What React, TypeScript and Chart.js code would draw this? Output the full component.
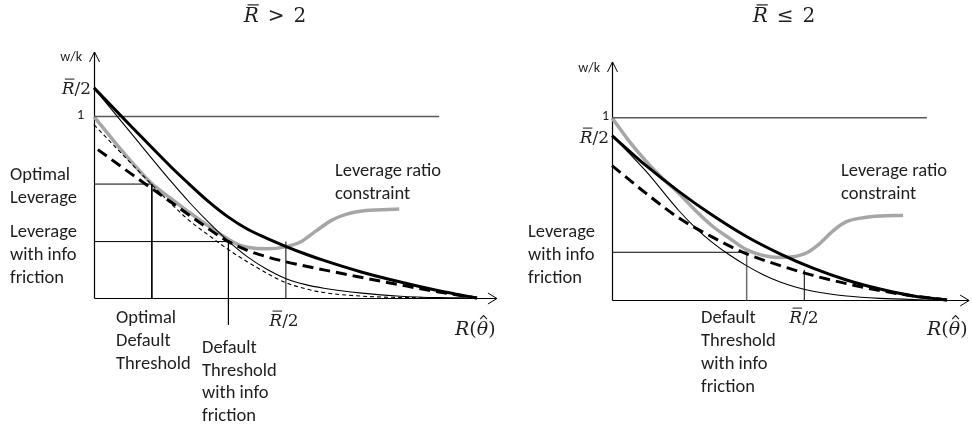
import React, { useEffect, useRef } from "react";
import { Chart, registerables } from "chart.js";
Chart.register(...registerables);

// ---------- Panel A : R̄ > 2 ----------
const A_THICK_X = [0, 1, 2, 2.5, 3, 3.5, 4, 4.5, 5, 5.5, 6, 7, 8, 9, 10];
const A_THICK_Y = [1.158, 0.94, 0.725, 0.625, 0.53, 0.447, 0.38, 0.33, 0.285, 0.244, 0.207, 0.142, 0.088, 0.04, 0];
const A_THIN_X = [0, 1, 2, 2.5, 3, 3.5, 4, 4.5, 5, 5.5, 6, 7, 8, 9, 10];
const A_THIN_Y = [1.158, 0.9, 0.645, 0.525, 0.415, 0.315, 0.228, 0.16, 0.108, 0.075, 0.054, 0.027, 0.01, 0.002, 0];
const A_GRAY_X = [0, 0.5, 1, 1.5, 2, 2.5, 3, 3.5, 3.75, 4, 4.5, 5, 5.4, 5.8, 6.2, 6.6, 7.1, 7.97];
const A_GRAY_Y = [1.0, 0.87, 0.745, 0.632, 0.55, 0.47, 0.395, 0.325, 0.295, 0.28, 0.271, 0.282, 0.31, 0.37, 0.428, 0.462, 0.482, 0.49];
const A_DASH_X = [0.1, 1, 2, 2.5, 3, 3.5, 4, 4.5, 5, 6, 7, 8, 9, 10];
const A_DASH_Y = [0.818, 0.68, 0.53, 0.455, 0.38, 0.312, 0.263, 0.228, 0.2, 0.155, 0.113, 0.072, 0.033, 0];
const A_FDASH_X = [0, 0.5, 1, 1.5, 2, 2.5, 3, 3.5, 4, 4.5, 5, 5.5, 6, 7, 8, 9];
const A_FDASH_Y = [0.955, 0.845, 0.735, 0.627, 0.522, 0.425, 0.345, 0.268, 0.2, 0.138, 0.085, 0.052, 0.03, 0.01, 0.003, 0];
const A_ONE_END = 9.01;
const A_LEVELS = [0.628, 0.311]; // optimal leverage, leverage with info friction
const A_THRESHOLDS = [1.51, 3.51]; // optimal default threshold, threshold with info friction
const A_THRESHOLD_TAIL = -0.147;
const A_HALF_RBAR = 5.01;
const A_HALF_RBAR_TOP = 0.311;

// ---------- Panel B : R̄ ≤ 2 ----------
const B_THICK_X = [0, 1, 2, 3, 4, 5, 6, 7, 8, 9, 10];
const B_THICK_Y = [0.903, 0.74, 0.595, 0.465, 0.35, 0.255, 0.175, 0.11, 0.06, 0.022, 0];
const B_THIN_X = [0, 1, 2, 2.5, 3, 3.5, 4, 4.5, 5, 5.5, 6, 7, 8, 9.5];
const B_THIN_Y = [0.903, 0.71, 0.49, 0.395, 0.315, 0.248, 0.19, 0.14, 0.1, 0.07, 0.048, 0.022, 0.009, 0];
const B_GRAY_X = [0, 0.5, 1, 1.5, 2, 2.5, 3, 3.5, 4, 4.5, 5, 5.4, 5.8, 6.2, 6.6, 7, 7.5, 8, 8.69];
const B_GRAY_Y = [1.0, 0.875, 0.765, 0.67, 0.585, 0.49, 0.405, 0.34, 0.278, 0.245, 0.233, 0.237, 0.258, 0.31, 0.38, 0.43, 0.452, 0.461, 0.464];
const B_DASH_X = [0, 1, 2, 3, 4, 5, 6, 7, 8, 9, 10];
const B_DASH_Y = [0.738, 0.588, 0.45, 0.345, 0.255, 0.19, 0.135, 0.09, 0.052, 0.022, 0];
const B_ONE_END = 9.4;
const B_LEVEL = 0.262; // leverage with info friction
const B_THRESHOLD = 4.02; // default threshold with info friction
const B_HALF_RBAR = 5.74;
const B_HALF_RBAR_TOP = 0.165;

// ---------- tick / axis labels ----------
const Y_TICK_ONE = "1";
const Y_AXIS_LABEL = "w/k";
const LABEL_OPT_LEV = ["Optimal", "Leverage"];
const LABEL_FRIC_LEV = ["Leverage", "with info", "friction"];
const LABEL_CONSTRAINT = ["Leverage ratio", "constraint"];
const LABEL_OPT_THR = ["Optimal", "Default", "Threshold"];
const LABEL_FRIC_THR = ["Default", "Threshold", "with info", "friction"];

const STYLES: Record<string, any> = {
  thick: { borderColor: "#000", borderWidth: 3, borderDash: [] },
  thin: { borderColor: "#000", borderWidth: 1.1, borderDash: [] },
  thickDash: { borderColor: "#000", borderWidth: 3, borderDash: [11, 6] },
  thinDash: { borderColor: "#000", borderWidth: 1.1, borderDash: [4, 3] },
  gray: { borderColor: "#a6a6a6", borderWidth: 3.5, borderDash: [] },
  level: { borderColor: "#595959", borderWidth: 1.5, borderDash: [] },
  guide: { borderColor: "#000", borderWidth: 1, borderDash: [] },
  guideGray: { borderColor: "#6b6b6b", borderWidth: 1.5, borderDash: [] },
};

const pts = (xs: number[], ys: number[]) => xs.map((x, i) => ({ x, y: ys[i] }));

function ds(xs: number[], ys: number[], style: string, order: number, curve = true) {
  return {
    data: pts(xs, ys),
    ...STYLES[style],
    fill: false,
    pointRadius: 0,
    clip: false,
    order,
    borderCapStyle: "butt",
    borderJoinStyle: "round",
    tension: curve ? 0.4 : 0,
    cubicInterpolationMode: curve ? "monotone" : "default",
  };
}

type MathPart = { t: string; it?: boolean; bar?: boolean; hat?: boolean; gap?: number };
type MathItem = { parts: MathPart[]; x: number; y: number; size: number; align: "left" | "center" | "right" };
type TextItem = { lines: string[]; x: number; y: number; lh: number; size: number; align?: CanvasTextAlign };

const MATH_FAMILY = '"DejaVu Serif", serif';
const TEXT_FAMILY = 'Carlito, Lato, "Open Sans", sans-serif';
const INK = "#1e1e1e";
const LABEL_SIZE = 18.5;

function drawMath(ctx: CanvasRenderingContext2D, m: MathItem) {
  const fontOf = (p: MathPart) => `${p.it ? "italic " : ""}${m.size}px ${MATH_FAMILY}`;
  let total = 0;
  const widths = m.parts.map((p) => {
    ctx.font = fontOf(p);
    const w = ctx.measureText(p.t).width;
    total += w + (p.gap || 0);
    return w;
  });
  let cx = m.align === "center" ? m.x - total / 2 : m.align === "right" ? m.x - total : m.x;
  ctx.textAlign = "left";
  ctx.textBaseline = "alphabetic";
  m.parts.forEach((p, i) => {
    cx += p.gap || 0;
    ctx.font = fontOf(p);
    ctx.fillText(p.t, cx, m.y);
    const w = widths[i];
    ctx.lineWidth = Math.max(1, m.size * 0.06);
    if (p.bar) {
      const top = m.y - m.size * 0.73 - 2.5;
      ctx.beginPath();
      ctx.moveTo(cx + w * 0.25, top);
      ctx.lineTo(cx + w * 1.0, top);
      ctx.stroke();
    }
    if (p.hat) {
      const top = m.y - m.size * 0.76 - 5;
      ctx.beginPath();
      ctx.moveTo(cx + w * 0.3, top + 3.5);
      ctx.lineTo(cx + w * 0.6, top);
      ctx.lineTo(cx + w * 0.9, top + 3.5);
      ctx.stroke();
    }
    cx += w;
  });
}

type Spec = {
  width: number;
  left: number;
  padding: { left: number; right: number; top: number; bottom: number };
  xTip: number;
  yTip: number;
  datasets: any[];
  texts: TextItem[];
  maths: MathItem[];
};

function makeChart(canvas: HTMLCanvasElement, spec: Spec) {
  const deco = {
    id: "deco",
    beforeDatasetsDraw(chart: any) {
      const ctx = chart.ctx as CanvasRenderingContext2D;
      const xs = chart.scales.x;
      const ys = chart.scales.y;
      const ox = Math.round(xs.getPixelForValue(0)) + 0.5;
      const oy = Math.round(ys.getPixelForValue(0)) + 0.5;
      const tx = xs.getPixelForValue(spec.xTip);
      const ty = ys.getPixelForValue(spec.yTip);
      ctx.save();
      ctx.strokeStyle = "#000";
      ctx.lineWidth = 1.2;
      ctx.beginPath();
      ctx.moveTo(ox, oy);
      ctx.lineTo(ox, ty);
      ctx.moveTo(ox, oy);
      ctx.lineTo(tx, oy);
      ctx.stroke();
      ctx.lineWidth = 1;
      ctx.beginPath();
      ctx.moveTo(ox - 5, ty + 10);
      ctx.lineTo(ox, ty);
      ctx.lineTo(ox + 5, ty + 10);
      ctx.moveTo(tx - 9, oy - 5.5);
      ctx.lineTo(tx, oy);
      ctx.lineTo(tx - 9, oy + 5.5);
      ctx.stroke();
      ctx.restore();
    },
    afterDraw(chart: any) {
      const ctx = chart.ctx as CanvasRenderingContext2D;
      ctx.save();
      ctx.fillStyle = INK;
      ctx.strokeStyle = INK;
      ctx.textBaseline = "alphabetic";
      spec.texts.forEach((t) => {
        ctx.font = `${t.size}px ${TEXT_FAMILY}`;
        ctx.textAlign = t.align || "left";
        t.lines.forEach((line, i) => ctx.fillText(line, t.x, t.y + i * t.lh));
      });
      spec.maths.forEach((m) => drawMath(ctx, m));
      ctx.restore();
    },
  };
  return new Chart(canvas, {
    type: "line",
    data: { datasets: spec.datasets },
    options: {
      responsive: false,
      animation: false,
      devicePixelRatio: window.devicePixelRatio || 1,
      layout: { padding: spec.padding },
      plugins: { legend: { display: false }, tooltip: { enabled: false }, title: { display: false } },
      scales: {
        x: { type: "linear", min: 0, max: 10, display: false },
        y: { type: "linear", min: 0, max: 1.4, display: false },
      },
      elements: { point: { radius: 0 } },
    } as any,
    plugins: [deco],
  } as any);
}

const RBAR: MathPart = { t: "R", it: true, bar: true };
const R_THETA: MathPart[] = [
  { t: "R", it: true },
  { t: "(" },
  { t: "θ", it: true, hat: true },
  { t: ")" },
];

const specA: Spec = {
  width: 505,
  left: 0,
  padding: { left: 94, right: 28, top: 44, bottom: 132 },
  xTip: 10.52,
  yTip: 1.356,
  datasets: [
    ds(A_THICK_X, A_THICK_Y, "thick", 1),
    ds(A_DASH_X, A_DASH_Y, "thickDash", 2),
    ds(A_THIN_X, A_THIN_Y, "thin", 3),
    ds(A_FDASH_X, A_FDASH_Y, "thinDash", 4),
    ds([0, A_ONE_END], [1, 1], "level", 5, false),
    ds([0, A_THRESHOLDS[0], A_THRESHOLDS[0]], [A_LEVELS[0], A_LEVELS[0], 0], "guide", 5, false),
    ds([0, A_THRESHOLDS[1], A_THRESHOLDS[1]], [A_LEVELS[1], A_LEVELS[1], A_THRESHOLD_TAIL], "guide", 5, false),
    ds([A_HALF_RBAR, A_HALF_RBAR], [0, A_HALF_RBAR_TOP], "guide", 5, false),
    ds(A_GRAY_X, A_GRAY_Y, "gray", 6),
  ],
  texts: [
    { lines: [Y_AXIS_LABEL], x: 82, y: 61, lh: 0, size: 14, align: "right" },
    { lines: [Y_TICK_ONE], x: 84, y: 119, lh: 0, size: 14, align: "right" },
    { lines: LABEL_OPT_LEV, x: 10, y: 180, lh: 22.5, size: LABEL_SIZE },
    { lines: LABEL_FRIC_LEV, x: 10, y: 237, lh: 23, size: LABEL_SIZE },
    { lines: LABEL_CONSTRAINT, x: 335, y: 176, lh: 22.5, size: LABEL_SIZE },
    { lines: LABEL_OPT_THR, x: 116, y: 323, lh: 23, size: LABEL_SIZE },
    { lines: LABEL_FRIC_THR, x: 202, y: 353, lh: 22.7, size: LABEL_SIZE },
  ],
  maths: [
    { parts: [RBAR, { t: ">", gap: 9 }, { t: "2", gap: 9 }], x: 275, y: 22, size: 20, align: "center" },
    { parts: [RBAR, { t: "/2" }], x: 91, y: 94, size: 17, align: "right" },
    { parts: [RBAR, { t: "/2" }], x: 284, y: 326, size: 17, align: "center" },
    { parts: R_THETA, x: 455, y: 335, size: 19, align: "left" },
  ],
};

const specB: Spec = {
  width: 482,
  left: 490,
  padding: { left: 122, right: 25, top: 45, bottom: 130 },
  xTip: 10.66,
  yTip: 1.307,
  datasets: [
    ds(B_THICK_X, B_THICK_Y, "thick", 1),
    ds(B_DASH_X, B_DASH_Y, "thickDash", 2),
    ds(B_THIN_X, B_THIN_Y, "thin", 3),
    ds([0, B_ONE_END], [1, 1], "level", 5, false),
    ds([0, B_THRESHOLD], [B_LEVEL, B_LEVEL], "guide", 5, false),
    ds([B_THRESHOLD, B_THRESHOLD], [B_LEVEL, 0], "guideGray", 5, false),
    ds([B_HALF_RBAR, B_HALF_RBAR], [0, B_HALF_RBAR_TOP], "guide", 5, false),
    ds(B_GRAY_X, B_GRAY_Y, "gray", 6),
  ],
  texts: [
    { lines: [Y_AXIS_LABEL], x: 110, y: 72, lh: 0, size: 14, align: "right" },
    { lines: [Y_TICK_ONE], x: 119, y: 120, lh: 0, size: 14, align: "right" },
    { lines: LABEL_FRIC_LEV, x: 38, y: 237, lh: 23, size: LABEL_SIZE },
    { lines: LABEL_CONSTRAINT, x: 351, y: 176, lh: 22.5, size: LABEL_SIZE },
    { lines: LABEL_FRIC_THR, x: 211, y: 323, lh: 23, size: LABEL_SIZE },
  ],
  maths: [
    { parts: [RBAR, { t: "≤", gap: 9 }, { t: "2", gap: 9 }], x: 294, y: 22, size: 20, align: "center" },
    { parts: [RBAR, { t: "/2" }], x: 119, y: 143, size: 17, align: "right" },
    { parts: [RBAR, { t: "/2" }], x: 314, y: 323, size: 17, align: "center" },
    { parts: R_THETA, x: 437, y: 335, size: 19, align: "left" },
  ],
};

function Panel({ spec }: { spec: Spec }) {
  const ref = useRef<HTMLCanvasElement | null>(null);
  useEffect(() => {
    if (!ref.current) return;
    const chart = makeChart(ref.current, spec);
    const fonts: any = (document as any).fonts;
    if (fonts && fonts.load) {
      Promise.all([fonts.load("18px Lato"), fonts.load('italic 18px "DejaVu Serif"')])
        .then(() => chart.draw())
        .catch(() => {});
    }
    return () => chart.destroy();
  }, [spec]);
  return (
    <canvas
      ref={ref}
      width={spec.width}
      height={430}
      style={{ position: "absolute", left: spec.left, top: 0, width: spec.width, height: 430 }}
    />
  );
}

export default function App() {
  useEffect(() => {
    document.body.style.margin = "0";
  }, []);
  return (
    <div style={{ position: "relative", width: 972, height: 430, background: "#fff", overflow: "hidden" }}>
      <Panel spec={specA} />
      <Panel spec={specB} />
    </div>
  );
}
